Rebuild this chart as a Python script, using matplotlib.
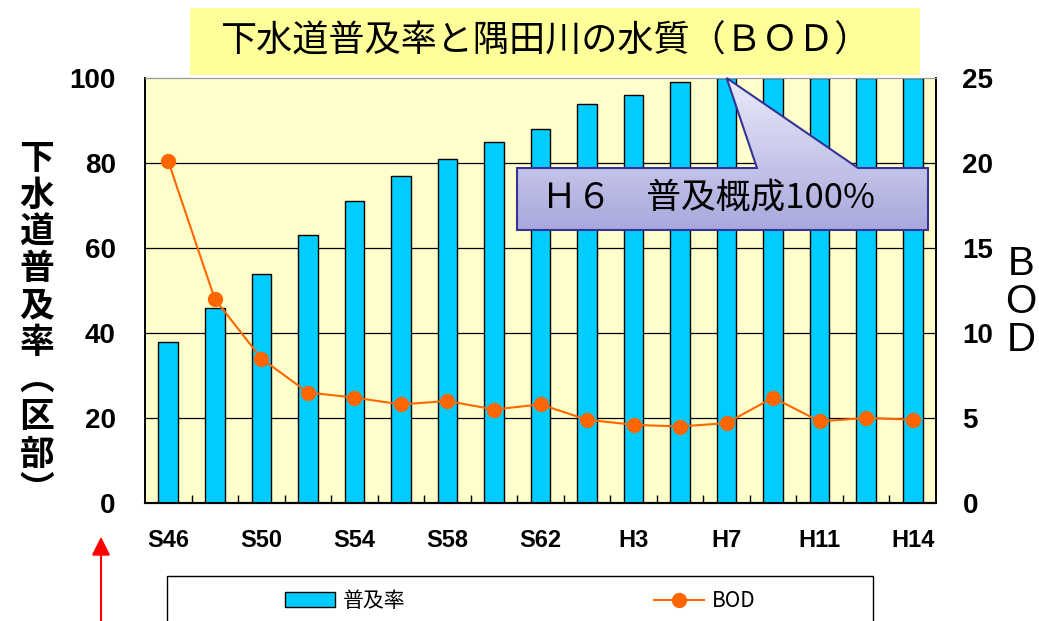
import numpy as np
import matplotlib
matplotlib.use('Agg')
from matplotlib import pyplot as plt
from matplotlib.patches import Polygon, Rectangle
from matplotlib.colors import LinearSegmentedColormap
from matplotlib.lines import Line2D

# data
years = ['S46', 'S48', 'S50', 'S52', 'S54', 'S56', 'S58', 'S60', 'S62',
         'H1', 'H3', 'H5', 'H7', 'H9', 'H11', 'H12', 'H14']
shown = ['S46', 'S50', 'S54', 'S58', 'S62', 'H3', 'H7', 'H11', 'H14']
fukyu = [38, 46, 54, 63, 71, 77, 81, 85, 88, 94, 96, 99, 100, 100, 100, 100, 100]
bod = [20.1, 12.0, 8.5, 6.5, 6.2, 5.8, 6.0, 5.5, 5.8, 4.9, 4.6, 4.5, 4.7, 6.2, 4.8, 5.0, 4.9]

title = '下水道普及率と隅田川の水質（ＢＯＤ）'
ylabel_left = '下水道普及率︵区部︶'
ylabel_right = 'BOD'
callout = 'Ｈ６　普及概成100%'

W, H = 1039, 621
jp = ['Noto Sans CJK JP', 'DejaVu Sans']
plt.rcParams['font.family'] = jp

fig = plt.figure(figsize=(W / 100, H / 100), dpi=100)
ax = fig.add_axes([145 / W, 1 - 503 / H, (936 - 145) / W, (503 - 78) / H])
ax2 = ax.twinx()

x = np.arange(len(years))
ax.set_facecolor('#FFFFCC')
ax.bar(x, fukyu, width=0.42, color='#00CCFF', edgecolor='black', linewidth=1.0,
       zorder=3, label='普及率')
ax2.plot(x, bod, color='#FF6600', linewidth=1.5, marker='o', markersize=10,
         zorder=4, label='BOD')

ax.set_xlim(-0.5, len(years) - 0.5)
ax.set_ylim(0, 100)
ax2.set_ylim(0, 25)
ax.set_yticks(np.arange(0, 101, 20))
ax2.set_yticks(np.arange(0, 26, 5))
for yv in [20, 40, 60, 80]:
    ax.axhline(yv, color='black', linewidth=0.9, zorder=1)

ax.set_xticks([years.index(s) for s in shown])
ax.set_xticklabels(shown)
ax.set_xticks(np.arange(0.5, len(years) - 1, 1), minor=True)
ax.tick_params(axis='x', which='major', length=0, pad=19)
ax.tick_params(axis='x', which='minor', direction='in', length=6, width=1)
ax.tick_params(axis='y', length=0, pad=21)
ax2.tick_params(axis='y', length=0, pad=19)
for lab in ax.get_xticklabels():
    lab.set_fontfamily('Liberation Sans')
    lab.set_fontweight('bold')
    lab.set_fontsize(17)
for lab in ax.get_yticklabels() + ax2.get_yticklabels():
    lab.set_fontfamily('Liberation Sans')
    lab.set_fontweight('bold')
    lab.set_fontsize(20)

for a in (ax, ax2):
    a.spines['top'].set_color('#999999')
    a.spines['left'].set_color('black')
    a.spines['right'].set_color('black')
    a.spines['bottom'].set_color('black')
    a.spines['bottom'].set_linewidth(1.5)
    a.spines['left'].set_linewidth(1.2)
    a.spines['right'].set_linewidth(1.2)

# overlay in pixel coords for title, callout, labels, legend box, arrow
ov = fig.add_axes([0, 0, 1, 1])
ov.set_xlim(0, W)
ov.set_ylim(H, 0)
ov.axis('off')

ov.add_patch(Rectangle((190, 8), 730, 67, facecolor='#FFFF99', edgecolor='none'))
ov.text(545, 42, title, fontsize=26, ha='center', va='center')

# callout pointing to H7 bar (100%)
tx, ty = ax.transData.transform((years.index('H7'), 100))
tip = (tx, H - ty)
pts = [(517, 168), (757, 168), tip, (858, 168), (928, 168), (928, 230), (517, 230)]
poly = Polygon(pts, closed=True, facecolor='none', edgecolor='#333399', linewidth=1.5, zorder=6)
ov.add_patch(poly)
cmap = LinearSegmentedColormap.from_list('cb', ['#EAEAF8', '#C9C9EC', '#A8A8DC'])
grad = np.linspace(0, 1, 256).reshape(-1, 1)
im = ov.imshow(grad, cmap=cmap, extent=[517, 928, 230, tip[1]], aspect='auto',
               origin='upper', zorder=5)
im.set_clip_path(poly)
ov.set_xlim(0, W)
ov.set_ylim(H, 0)
ov.text(709, 198, callout, fontsize=25, ha='center', va='center', zorder=7)

# left vertical label
for i, ch in enumerate(ylabel_left):
    ov.text(37, 158 + i * 37, ch, fontsize=25, fontweight='bold', ha='center', va='center')
# right vertical label
ov.text(1021, 302, '\n'.join(ylabel_right), fontsize=29, family='Liberation Sans',
        ha='center', va='center', linespacing=1.0, multialignment='center')

# legend box, partly cut by the figure edge
ov.add_patch(Rectangle((167, 576), 706, 70, facecolor='white', edgecolor='black', linewidth=1))
handles = [Rectangle((0, 0), 1, 1, facecolor='#00CCFF', edgecolor='black', linewidth=1),
           Line2D([], [], color='#FF6600', marker='o', markersize=10, linewidth=1.5)]
fig.legend(handles, ['普及率', 'BOD'], ncol=2, frameon=False, fontsize=15,
           loc='center left', bbox_to_anchor=(266 / W, 1 - 601 / H),
           handlelength=2.4, handletextpad=0.4, columnspacing=11.9)

ov.annotate('', xy=(101, 534), xytext=(101, 625),
            arrowprops=dict(arrowstyle='-|>', color='red', lw=1.5, mutation_scale=28))

fig.savefig('out.png', dpi=100)
